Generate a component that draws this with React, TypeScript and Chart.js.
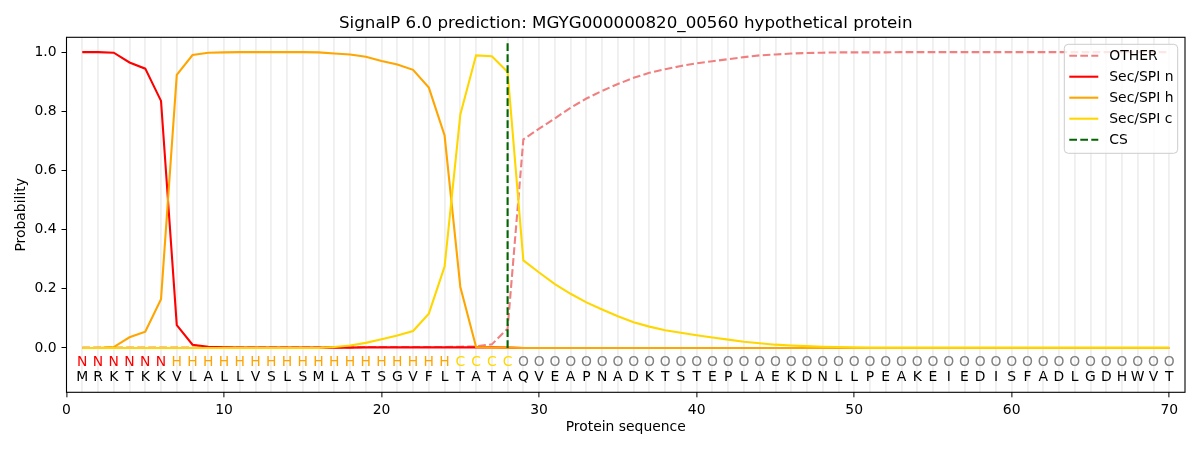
import { useEffect, useRef } from 'react'
import { Chart, registerables } from 'chart.js'

Chart.register(...registerables)

const TITLE = 'SignalP 6.0 prediction: MGYG000000820_00560 hypothetical protein'
const SEQUENCE = 'MRKTKKVLALLVSLSMLATSGVFLTATAQVEAPNADKTSTEPLAEKDNLLPEAKEIEDISFADLGDHWVT'.split('')
const REGIONS = ('NNNNNN' + 'H'.repeat(18) + 'CCCC' + 'O'.repeat(42)).split('')
const POSITIONS = SEQUENCE.map((_, i) => i + 1)

const OTHER = [
  0.001, 0.001, 0.001, 0.001, 0.001, 0.001, 0.001, 0.001, 0.001, 0.001,
  0.001, 0.001, 0.001, 0.001, 0.001, 0.001, 0.002, 0.002, 0.003, 0.003,
  0.003, 0.003, 0.003, 0.003, 0.004, 0.005, 0.012, 0.065, 0.705, 0.741,
  0.776, 0.812, 0.843, 0.869, 0.892, 0.913, 0.93, 0.942, 0.953, 0.962,
  0.969, 0.976, 0.983, 0.989, 0.992, 0.995, 0.997, 0.998, 0.999, 0.999,
  0.999, 0.999, 1.0, 1.0, 1.0, 1.0, 1.0, 1.0, 1.0, 1.0,
  1.0, 1.0, 1.0, 1.0, 1.0, 1.0, 1.0, 1.0, 1.0, 1.0,
]
const SEC_N = [
  1.0, 1.0, 0.998, 0.965, 0.944, 0.835, 0.077, 0.011, 0.004, 0.002,
  0.001, 0.001, 0.001, 0.001, 0.001, 0.001, 0.001, 0.001, 0.002, 0.002,
  0.002, 0.002, 0.002, 0.002, 0.002, 0.002, 0.002, 0.001, 0, 0,
  0, 0, 0, 0, 0, 0, 0, 0, 0, 0,
  0, 0, 0, 0, 0, 0, 0, 0, 0, 0,
  0, 0, 0, 0, 0, 0, 0, 0, 0, 0,
  0, 0, 0, 0, 0, 0, 0, 0, 0, 0,
]
const SEC_H = [
  0, 0, 0.003, 0.036, 0.055, 0.165, 0.923, 0.99, 0.998, 0.999,
  1.0, 1.0, 1.0, 1.0, 1.0, 0.999, 0.995, 0.992, 0.984, 0.97,
  0.958, 0.94, 0.88, 0.718, 0.206, 0.003, 0.001, 0.001, 0, 0,
  0, 0, 0, 0, 0, 0, 0, 0, 0, 0,
  0, 0, 0, 0, 0, 0, 0, 0, 0, 0,
  0, 0, 0, 0, 0, 0, 0, 0, 0, 0,
  0, 0, 0, 0, 0, 0, 0, 0, 0, 0,
]
const SEC_C = [
  0, 0, 0, 0, 0, 0, 0, 0, 0, 0,
  0, 0, 0, 0, 0, 0, 0.003, 0.008, 0.017, 0.029,
  0.042, 0.057, 0.116, 0.275, 0.789, 0.989, 0.986, 0.933, 0.296, 0.255,
  0.216, 0.183, 0.154, 0.13, 0.107, 0.087, 0.072, 0.06, 0.051, 0.043,
  0.035, 0.028, 0.021, 0.016, 0.011, 0.008, 0.006, 0.004, 0.003, 0.002,
  0.001, 0.001, 0.001, 0.001, 0.001, 0.001, 0.001, 0.001, 0.001, 0.001,
  0.001, 0.001, 0.001, 0.001, 0.001, 0.001, 0.001, 0.001, 0.001, 0.001,
]
const CS_POSITION = 28
const CS_RANGE = [0, 1.035]

const X_TICKS = [0, 10, 20, 30, 40, 50, 60, 70]
const Y_TICKS = [0, 0.2, 0.4, 0.6, 0.8, 1.0]

const C = {
  other: '#f08080',
  n: '#ff0000',
  h: '#ffa500',
  c: '#ffd700',
  cs: '#006400',
  o: '#808080',
  vline: '#efefef',
}
const REGION_COLOR: Record<string, string> = { N: C.n, H: C.h, C: C.c, O: C.o }
const FONT = '"DejaVu Sans", sans-serif'
const DASH = [7.7, 3.3]

const LEGEND = [
  { label: 'OTHER', color: C.other, dash: DASH },
  { label: 'Sec/SPI n', color: C.n, dash: [] },
  { label: 'Sec/SPI h', color: C.h, dash: [] },
  { label: 'Sec/SPI c', color: C.c, dash: [] },
  { label: 'CS', color: C.cs, dash: DASH },
]

const decorations = {
  id: 'decorations',
  afterDatasetsDraw(chart: any) {
    const { ctx, chartArea: a, scales } = chart
    const xs = scales.x, ys = scales.y
    ctx.save()
    ctx.font = `13.9px ${FONT}`
    ctx.textAlign = 'center'
    ctx.textBaseline = 'middle'
    POSITIONS.forEach((p, i) => {
      const x = xs.getPixelForValue(p)
      ctx.fillStyle = REGION_COLOR[REGIONS[i]]
      ctx.fillText(REGIONS[i], x, ys.getPixelForValue(-0.05))
      ctx.fillStyle = '#000'
      ctx.fillText(SEQUENCE[i], x, ys.getPixelForValue(-0.1))
    })
    ctx.restore()
  },
  afterDraw(chart: any) {
    const { ctx, chartArea: a } = chart
    ctx.save()
    // frame
    ctx.strokeStyle = '#000'
    ctx.lineWidth = 1.1
    ctx.strokeRect(a.left, a.top, a.right - a.left, a.bottom - a.top)

    // titles
    ctx.fillStyle = '#000'
    ctx.textAlign = 'center'
    ctx.textBaseline = 'middle'
    ctx.font = `16.7px ${FONT}`
    ctx.fillText(TITLE, (a.left + a.right) / 2, 23.3)
    ctx.font = `13.9px ${FONT}`
    ctx.fillText('Protein sequence', (a.left + a.right) / 2, 427)
    ctx.save()
    ctx.translate(21.7, (a.top + a.bottom) / 2)
    ctx.rotate(-Math.PI / 2)
    ctx.fillText('Probability', 0, 0)
    ctx.restore()

    // legend
    const w = 113.4, h = 109
    const lx = a.right - 7.3 - w, ly = a.top + 7
    ctx.beginPath()
    ctx.roundRect(lx, ly, w, h, 4)
    ctx.fillStyle = 'rgba(255,255,255,0.8)'
    ctx.fill()
    ctx.strokeStyle = '#cccccc'
    ctx.lineWidth = 1
    ctx.stroke()
    ctx.textAlign = 'left'
    LEGEND.forEach((item, i) => {
      const y = ly + 11.4 + i * 21
      ctx.beginPath()
      ctx.setLineDash(item.dash)
      ctx.strokeStyle = item.color
      ctx.lineWidth = 2.1
      ctx.moveTo(lx + 5, y)
      ctx.lineTo(lx + 34, y)
      ctx.stroke()
      ctx.setLineDash([])
      ctx.fillStyle = '#000'
      ctx.fillText(item.label, lx + 45, y + 0.5)
    })
    ctx.restore()
  },
}

function series(values: number[]) {
  return POSITIONS.map((p, i) => ({ x: p, y: values[i] }))
}

export default function App() {
  const canvasRef = useRef<HTMLCanvasElement>(null)
  const chartRef = useRef<Chart | null>(null)

  useEffect(() => {
    if (!canvasRef.current) return
    if (chartRef.current) { chartRef.current.destroy(); chartRef.current = null }

    const line = (label: string, values: number[], color: string, order: number, dash: number[] = []) => ({
      label,
      data: series(values),
      borderColor: color,
      backgroundColor: color,
      borderWidth: 2.1,
      borderDash: dash,
      pointRadius: 0,
      tension: 0,
      order,
    })

    chartRef.current = new Chart(canvasRef.current, {
      type: 'line',
      data: {
        datasets: [
          line('OTHER', OTHER, C.other, 5, DASH),
          line('Sec/SPI n', SEC_N, C.n, 4),
          line('Sec/SPI h', SEC_H, C.h, 3),
          line('Sec/SPI c', SEC_C, C.c, 2),
          {
            label: 'CS',
            data: CS_RANGE.map(y => ({ x: CS_POSITION, y })),
            borderColor: C.cs,
            borderWidth: 2.1,
            borderDash: DASH,
            pointRadius: 0,
            order: 1,
          },
        ] as any,
      },
      options: {
        animation: false,
        responsive: true,
        maintainAspectRatio: false,
        layout: { padding: { top: 37.3, right: 15, left: 0, bottom: 0 } },
        plugins: {
          legend: { display: false },
          title: { display: false },
          tooltip: { enabled: false },
        },
        scales: {
          x: {
            type: 'linear',
            min: 0,
            max: 71,
            afterBuildTicks: (s: any) => { s.ticks = Array.from({ length: 71 }, (_, v) => ({ value: v })) },
            afterFit: (s: any) => { s.height = 57.7 },
            ticks: {
              autoSkip: false,
              maxRotation: 0,
              padding: 5,
              color: '#000',
              font: { family: FONT, size: 13.9 },
              callback: (v: any) => (X_TICKS.includes(v) ? String(v) : ''),
            },
            grid: {
              color: (c: any) => (c.tick && c.tick.value >= 1 ? C.vline : 'transparent'),
              lineWidth: 1.8,
              tickColor: (c: any) => (c.tick && X_TICKS.includes(c.tick.value) ? '#000' : 'transparent'),
              tickWidth: 1,
              tickLength: 5,
            },
            border: { display: false },
          },
          y: {
            type: 'linear',
            min: -0.15,
            max: 1.05,
            afterBuildTicks: (s: any) => { s.ticks = Y_TICKS.map(v => ({ value: v })) },
            afterFit: (s: any) => { s.width = 66.5 },
            ticks: {
              padding: 5,
              color: '#000',
              font: { family: FONT, size: 13.9 },
              callback: (v: any) => Number(v).toFixed(1),
            },
            grid: {
              drawOnChartArea: false,
              tickColor: '#000',
              tickWidth: 1,
              tickLength: 5,
            },
            border: { display: false },
          },
        },
      },
      plugins: [decorations],
    })

    return () => { chartRef.current?.destroy(); chartRef.current = null }
  }, [])

  return (
    <div style={{ position: 'absolute', left: 0, top: 0, width: 1200, height: 450, background: '#fff' }}>
      <canvas ref={canvasRef} style={{ width: '100%', height: '100%' }} />
    </div>
  )
}
